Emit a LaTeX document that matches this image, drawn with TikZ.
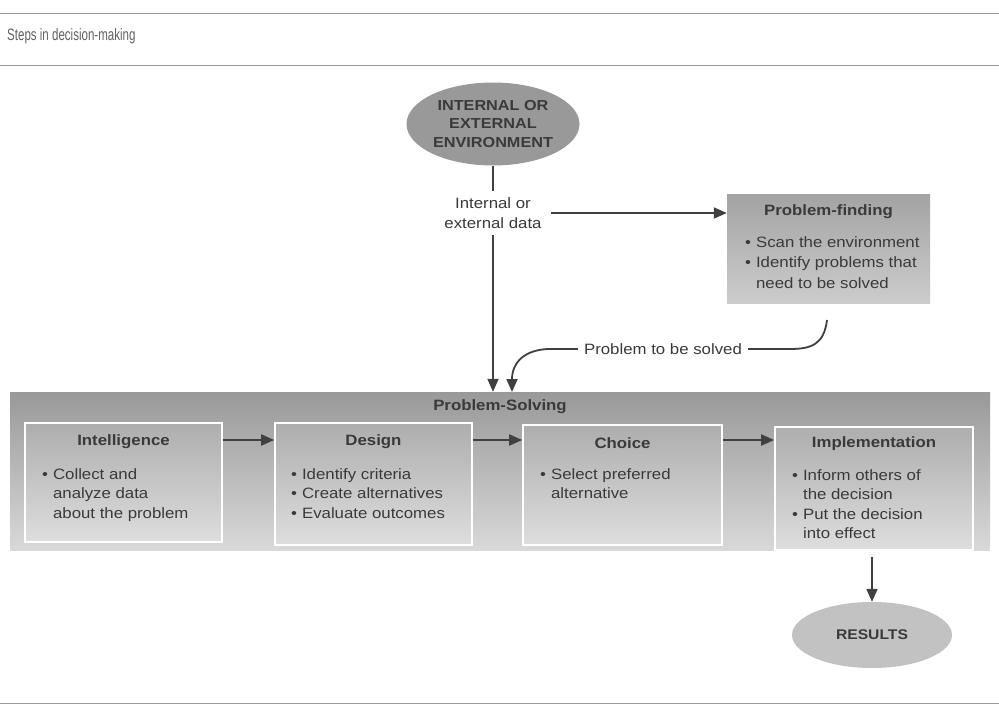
\documentclass[tikz,border=0pt]{standalone}
\usepackage{fontspec}
\setmainfont{Liberation Sans}[FakeStretch=1.12]
\newfontfamily\titlefont{Liberation Sans}[FakeStretch=0.7]
\usetikzlibrary{arrows.meta,shapes.geometric,calc}
\definecolor{txtc}{HTML}{3A3A3A}
\definecolor{rulec}{HTML}{9A9A9A}
\newcommand{\ind}{\hphantom{\textbullet\hspace{5pt}}}
\newcommand{\bul}{\textbullet\hspace{5pt}}
\begin{document}
\begin{tikzpicture}[x=1pt,y=-1pt,
  body/.style={font=\fontsize{15}{19.5}\selectfont, text=txtc, inner sep=0pt},
  head/.style={font=\bfseries\fontsize{15}{18}\selectfont, text=txtc, inner sep=0pt},
  stagebox/.style={draw=white, line width=1.6pt, top color=black!32, bottom color=black!13, minimum width=197pt, inner sep=0pt},
  arr/.style={-{Triangle[length=13pt,width=11pt]}, line width=1.8pt, draw=black!75},
  plain/.style={line width=1.8pt, draw=black!75},
  rulel/.style={draw=rulec, line width=0.8pt}
]
\useasboundingbox (0,0) rectangle (999,714);
\fill[white] (0,0) rectangle (999,714);

% rules and title
\coordinate (r1a) at (0,13); \coordinate (r1b) at (999,13);
\draw[rulel] (r1a) -- (r1b);
\coordinate (r2a) at (0,65); \coordinate (r2b) at (999,65);
\draw[rulel] (r2a) -- (r2b);
\coordinate (r3a) at (0,703); \coordinate (r3b) at (999,703);
\draw[rulel] (r3a) -- (r3b);
\node[anchor=west, font=\titlefont\fontsize{16.5}{18}\selectfont, text=black!62, inner sep=0pt] (title) at (7,36) {Steps in decision-making};

% environment ellipse
\node[ellipse, fill=black!40, minimum width=173pt, minimum height=83pt, inner sep=0pt,
      align=center, font=\bfseries\fontsize{14.5}{18.5}\selectfont, text=txtc] (env) at (493,124)
  {INTERNAL OR\\EXTERNAL\\ENVIRONMENT};

\node[body, align=center, font=\fontsize{15}{20}\selectfont] (data) at (493,213) {Internal or\\external data};

% problem finding
\node[draw=none, top color=black!36, bottom color=black!20, minimum width=203pt, minimum height=108pt, inner sep=0pt] (pf) at (828.5,249) {};
\node[head] (pft) at (828.5,212) {Problem-finding};
\node[body, anchor=north west, align=left, font=\fontsize{15}{20.5}\selectfont] (pfb) at (745,236)
  {\bul Scan the environment\\\bul Identify problems that\\\ind need to be solved};

% problem solving band
\node[draw=none, top color=black!40, bottom color=black!15, minimum width=980pt, minimum height=158pt, inner sep=0pt] (band) at (500,471) {};
\node[head] (bandt) at (500,407) {Problem-Solving};

\node[stagebox, minimum height=119pt] (intel) at (123.5,482.5) {};
\node[stagebox, minimum height=122pt] (design) at (373.5,484) {};
\node[stagebox, minimum height=120pt, minimum width=199pt] (choice) at (622.5,485) {};
\node[stagebox, minimum height=123pt, minimum width=198pt] (impl) at (874,488.5) {};

\node[head] (intelt) at (123.5,442) {Intelligence};
\node[head] (designt) at (373.5,442) {Design};
\node[head] (choicet) at (622.5,443) {Choice};
\node[head] (implt) at (874,444) {Implementation};

\node[body, anchor=north west, align=left] (intelb) at (42,468)
  {\bul Collect and\\\ind analyze data\\\ind about the problem};
\node[body, anchor=north west, align=left] (designb) at (291,468)
  {\bul Identify criteria\\\bul Create alternatives\\\bul Evaluate outcomes};
\node[body, anchor=north west, align=left] (choiceb) at (540,468)
  {\bul Select preferred\\\ind alternative};
\node[body, anchor=north west, align=left] (implb) at (792,469)
  {\bul Inform others of\\\ind the decision\\\bul Put the decision\\\ind into effect};

% results
\node[ellipse, fill=black!24, minimum width=160pt, minimum height=66pt, inner sep=0pt,
      font=\bfseries\fontsize{14}{16}\selectfont, text=txtc] (res) at (872,635) {RESULTS};

% connectors
\draw[plain] (env.south) -- ([yshift=6pt]data.north);
\draw[arr] ([xshift=9pt]data.east) -- (data.east -| pf.west);
\draw[arr] ([yshift=-6pt]data.south) -- (data.south |- band.north);

\node[body] (ptbs) at (663,349) {Problem to be solved};
\coordinate (pfout) at (827,320);
\coordinate (psin) at (512,392);
\draw[plain] (pfout) .. controls (824,344) and (812,349) .. (790,349) -- ([xshift=6pt]ptbs.east);
\draw[arr] ([xshift=-6pt]ptbs.west) -- (548,349) .. controls (525,350) and (512,362) .. (psin);

\coordinate (ay) at (0,440);
\draw[arr] (intel.east |- ay) -- (design.west |- ay);
\draw[arr] (design.east |- ay) -- (choice.west |- ay);
\draw[arr] (choice.east |- ay) -- (impl.west |- ay);
\draw[arr] ([yshift=-6pt]impl.south -| res.north) -- (res.north);
\end{tikzpicture}
\end{document}
